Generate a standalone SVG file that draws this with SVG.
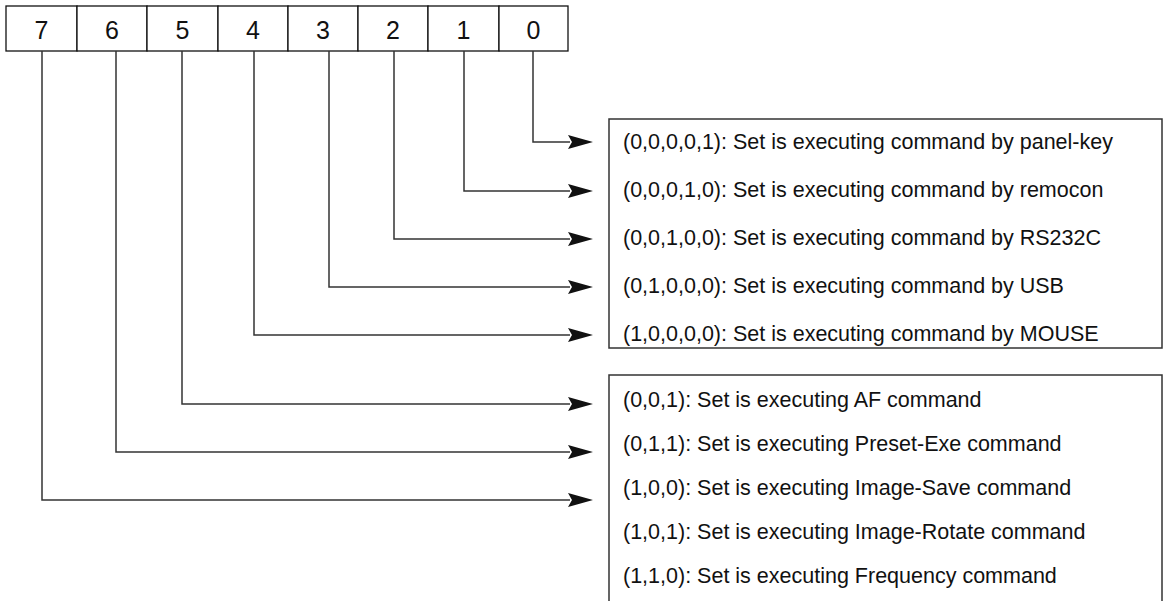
<svg xmlns="http://www.w3.org/2000/svg" width="1165" height="601" viewBox="0 0 1165 601">
  <style>
    .cell { fill: #ffffff; stroke: #111111; stroke-width: 1.3; }
    .bit { font-family: "Liberation Sans", Arial, sans-serif; font-size: 25px; fill: #111111; text-anchor: middle; }
    .frame { fill: #ffffff; stroke: #333333; stroke-width: 1.5; }
    .item { font-family: "Liberation Sans", Arial, sans-serif; font-size: 21.5px; fill: #111111; }
    .wire { fill: none; stroke: #333333; stroke-width: 1.5; marker-end: url(#head); }
  </style>
  <defs>
    <marker id="head" markerUnits="userSpaceOnUse" viewBox="0 0 25 14" refX="2" refY="7" markerWidth="25" markerHeight="14" orient="auto">
      <path d="M0,0 L25,7 L0,14 L4,7 Z" fill="#111111"/>
    </marker>
  </defs>

  <rect width="1165" height="601" fill="#ffffff"/>

  <!-- 8-bit register, MSB on the left -->
  <g id="register">
    <rect class="cell" x="6" y="6" width="71" height="45"/>
    <rect class="cell" x="77" y="6" width="70" height="45"/>
    <rect class="cell" x="147" y="6" width="71" height="45"/>
    <rect class="cell" x="218" y="6" width="70" height="45"/>
    <rect class="cell" x="288" y="6" width="70" height="45"/>
    <rect class="cell" x="358" y="6" width="70" height="45"/>
    <rect class="cell" x="428" y="6" width="71" height="45"/>
    <rect class="cell" x="499" y="6" width="69" height="45"/>
    <text class="bit" x="41.5" y="38.5">7</text>
    <text class="bit" x="112" y="38.5">6</text>
    <text class="bit" x="182.5" y="38.5">5</text>
    <text class="bit" x="253" y="38.5">4</text>
    <text class="bit" x="323" y="38.5">3</text>
    <text class="bit" x="393" y="38.5">2</text>
    <text class="bit" x="463.5" y="38.5">1</text>
    <text class="bit" x="533.5" y="38.5">0</text>
  </g>

  <!-- bits 0-4: command source -->
  <g id="source-box">
    <rect class="frame" x="609" y="119" width="553" height="229"/>
    <text class="item" x="623" y="148.5">(0,0,0,0,1): Set is executing command by panel-key</text>
    <text class="item" x="623" y="196.5">(0,0,0,1,0): Set is executing command by remocon</text>
    <text class="item" x="623" y="244.5">(0,0,1,0,0): Set is executing command by RS232C</text>
    <text class="item" x="623" y="292.5">(0,1,0,0,0): Set is executing command by USB</text>
    <text class="item" x="623" y="340.5">(1,0,0,0,0): Set is executing command by MOUSE</text>
  </g>

  <!-- bits 5-7: command type -->
  <g id="command-box">
    <rect class="frame" x="609" y="375" width="553" height="240"/>
    <text class="item" x="623" y="406.5">(0,0,1): Set is executing AF command</text>
    <text class="item" x="623" y="450.5">(0,1,1): Set is executing Preset-Exe command</text>
    <text class="item" x="623" y="494.5">(1,0,0): Set is executing Image-Save command</text>
    <text class="item" x="623" y="538.5">(1,0,1): Set is executing Image-Rotate command</text>
    <text class="item" x="623" y="582.5">(1,1,0): Set is executing Frequency command</text>
  </g>

  <g id="connectors">
    <path class="wire" d="M533,51 V142 H570"/>
    <path class="wire" d="M464,51 V191 H570"/>
    <path class="wire" d="M394,51 V239 H570"/>
    <path class="wire" d="M329,51 V287 H570"/>
    <path class="wire" d="M254,51 V335 H570"/>
    <path class="wire" d="M182,51 V404 H570"/>
    <path class="wire" d="M116,51 V452 H570"/>
    <path class="wire" d="M42,51 V500 H570"/>
  </g>
</svg>
